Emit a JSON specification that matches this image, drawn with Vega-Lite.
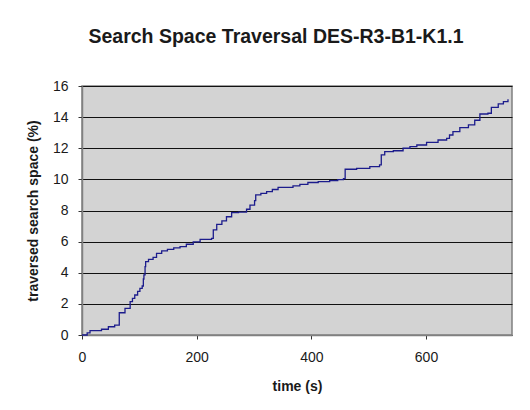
{
  "$schema": "https://vega.github.io/schema/vega-lite/v6.json",
  "autosize": "none",
  "width": 430,
  "height": 249,
  "padding": {"left": 82, "top": 86, "right": 18, "bottom": 75},
  "background": "#ffffff",
  "title": {
    "text": "Search Space Traversal DES-R3-B1-K1.1",
    "font": "Liberation Sans",
    "fontSize": 19.5,
    "fontWeight": "bold",
    "color": "#1a1a1a",
    "anchor": "middle",
    "dx": -21,
    "baseline": "alphabetic",
    "offset": 17
  },
  "config": {
    "view": {"fill": "#d3d3d3", "stroke": "#808080", "strokeWidth": 1.5},
    "axis": {"labelFont": "Liberation Sans", "titleFont": "Liberation Sans", "labelFontSize": 14, "titleFontSize": 14, "labelColor": "#1a1a1a", "titleColor": "#1a1a1a"}
  },
  "data": {
    "values": [
      {"t": 0, "y": 0},
      {"t": 9, "y": 0.14},
      {"t": 14, "y": 0.28},
      {"t": 34, "y": 0.37},
      {"t": 46, "y": 0.53},
      {"t": 57, "y": 0.64},
      {"t": 65, "y": 1.43},
      {"t": 75, "y": 1.71},
      {"t": 84, "y": 2.14},
      {"t": 88, "y": 2.35},
      {"t": 92, "y": 2.57},
      {"t": 97, "y": 2.8},
      {"t": 101, "y": 3.0},
      {"t": 105, "y": 3.15},
      {"t": 107, "y": 3.6},
      {"t": 108, "y": 3.86},
      {"t": 110, "y": 4.4},
      {"t": 111, "y": 4.71},
      {"t": 116, "y": 4.86},
      {"t": 124, "y": 4.99},
      {"t": 130, "y": 5.25},
      {"t": 139, "y": 5.4},
      {"t": 149, "y": 5.5},
      {"t": 160, "y": 5.6},
      {"t": 171, "y": 5.68},
      {"t": 182, "y": 5.83},
      {"t": 194, "y": 5.98},
      {"t": 206, "y": 6.15},
      {"t": 226, "y": 6.21},
      {"t": 229, "y": 6.75},
      {"t": 235, "y": 7.11},
      {"t": 244, "y": 7.33},
      {"t": 252, "y": 7.6},
      {"t": 261, "y": 7.86},
      {"t": 273, "y": 7.89},
      {"t": 287, "y": 8.08},
      {"t": 293, "y": 8.35},
      {"t": 301, "y": 8.63},
      {"t": 303, "y": 9.0},
      {"t": 312, "y": 9.1},
      {"t": 322, "y": 9.21},
      {"t": 332, "y": 9.35},
      {"t": 342, "y": 9.49},
      {"t": 368, "y": 9.58},
      {"t": 380, "y": 9.68},
      {"t": 394, "y": 9.8},
      {"t": 412, "y": 9.86},
      {"t": 432, "y": 9.92},
      {"t": 446, "y": 9.98},
      {"t": 456, "y": 10.05},
      {"t": 459, "y": 10.65},
      {"t": 479, "y": 10.71},
      {"t": 502, "y": 10.82},
      {"t": 519, "y": 10.93},
      {"t": 522, "y": 11.57},
      {"t": 528, "y": 11.78},
      {"t": 543, "y": 11.84},
      {"t": 560, "y": 12.0},
      {"t": 572, "y": 12.1},
      {"t": 584, "y": 12.21},
      {"t": 601, "y": 12.38},
      {"t": 621, "y": 12.53},
      {"t": 636, "y": 12.64},
      {"t": 641, "y": 12.85},
      {"t": 647, "y": 13.07},
      {"t": 659, "y": 13.32},
      {"t": 674, "y": 13.5},
      {"t": 685, "y": 13.8},
      {"t": 694, "y": 14.2},
      {"t": 708, "y": 14.25},
      {"t": 714, "y": 14.63},
      {"t": 726, "y": 14.85},
      {"t": 735, "y": 14.99},
      {"t": 743, "y": 15.15}
    ]
  },
  "mark": {"type": "line", "interpolate": "step-after", "color": "#1c1c8c", "strokeWidth": 1.3},
  "encoding": {
    "x": {
      "field": "t",
      "type": "quantitative",
      "title": "time (s)",
      "scale": {"domain": [0, 750], "nice": false},
      "axis": {"values": [0, 200, 400, 600], "grid": false, "domain": true, "domainColor": "#808080", "domainWidth": 1.5, "tickColor": "#333", "tickSize": 4, "labelPadding": 11, "titlePadding": 15, "labelFlush": false}
    },
    "y": {
      "field": "y",
      "type": "quantitative",
      "title": "traversed search space (%)",
      "scale": {"domain": [0, 16], "nice": false},
      "axis": {"values": [0, 2, 4, 6, 8, 10, 12, 14, 16], "grid": true, "gridColor": "#111", "gridWidth": 1, "domainColor": "#808080", "domainWidth": 1.5, "tickColor": "#333", "tickSize": 4, "labelPadding": 10, "titlePadding": 12}
    }
  }
}
